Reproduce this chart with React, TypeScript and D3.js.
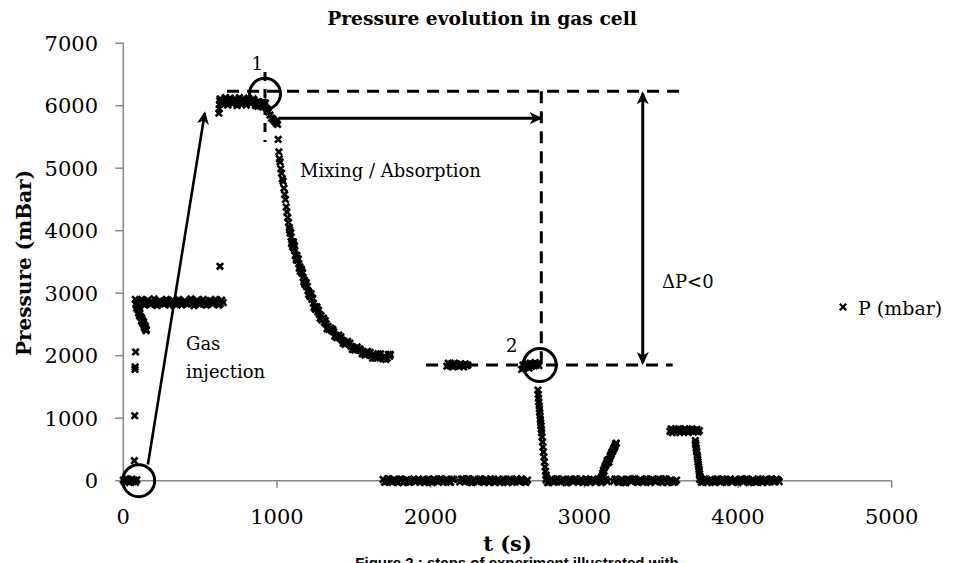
import React from 'react';
import * as d3 from 'd3';

// ---- axis ticks ----
const xTicks = [0, 1000, 2000, 3000, 4000, 5000];
const yTicks = [0, 1000, 2000, 3000, 4000, 5000, 6000, 7000];

// ---- data segments: t (s), P (mbar) ----
const startT = [0, 8, 16, 24, 32, 40, 48, 56, 64, 72, 80, 88];
const startP = [10, -20, 30, -10, 20, -30, 0, 25, -15, 10, -25, 15];

const injT = [72, 74, 76, 77, 80];
const injP = [320, 1040, 1780, 1820, 2060];

const slopeT = [78, 84, 90, 96, 102, 108, 114, 120, 126, 132, 138, 144, 150];
const slopeP = [2900, 2840, 2790, 2760, 2700, 2680, 2620, 2600, 2560, 2540, 2490, 2470, 2420];
const slopeBT = [82, 88, 94, 100, 106, 112, 118, 124, 130, 136, 142, 148];
const slopeBP = [2820, 2760, 2740, 2680, 2640, 2620, 2560, 2530, 2510, 2460, 2430, 2400];

const plateauT = [110, 130, 150, 170, 190, 210, 230, 250, 270, 290, 310, 330, 350, 370, 390, 410, 430, 450, 470, 490, 510, 530, 550, 570, 590, 610, 630, 650];
const plateauP = [2880, 2830, 2870, 2840, 2860, 2820, 2870, 2850, 2830, 2880, 2840, 2860, 2820, 2870, 2850, 2830, 2880, 2840, 2860, 2830, 2870, 2850, 2820, 2880, 2840, 2860, 2830, 2850];
const plateauBT = [120, 140, 160, 180, 200, 220, 240, 260, 280, 300, 320, 340, 360, 380, 400, 420, 440, 460, 480, 500, 520, 540, 560, 580, 600, 620, 640];
const plateauBP = [2900, 2810, 2890, 2820, 2910, 2800, 2880, 2830, 2900, 2810, 2890, 2820, 2900, 2810, 2880, 2830, 2910, 2800, 2890, 2820, 2900, 2810, 2880, 2830, 2900, 2810, 2890];

const outlierT = [629];
const outlierP = [3430];

const peakT = [622, 624, 626, 628, 630, 640, 655, 670, 685, 700, 715, 730, 745, 760, 775, 790, 805, 820, 835, 850, 865, 880, 895, 910, 925];
const peakP = [5880, 5950, 6020, 6080, 6110, 6080, 6050, 6090, 6060, 6100, 6070, 6050, 6080, 6060, 6100, 6070, 6050, 6080, 6060, 6090, 6040, 6070, 6050, 6060, 6040];
const peakBT = [650, 665, 680, 695, 710, 725, 740, 755, 770, 785, 800, 815, 830, 845, 860, 875, 890, 905];
const peakBP = [6020, 6130, 6010, 6120, 6030, 6110, 6000, 6130, 6020, 6100, 6010, 6120, 6030, 6110, 6040, 6060, 6020, 6040];

const peakEndT = [860, 875, 890, 905, 920, 935, 945, 955, 965, 975, 985, 995];
const peakEndP = [6000, 5990, 6010, 5980, 5990, 5950, 5900, 5850, 5800, 5780, 5750, 5720];

const decayT = [1000, 1004, 1008, 1012, 1016, 1020, 1025, 1030, 1035, 1040, 1045, 1050, 1055, 1060, 1065, 1070, 1075, 1080, 1086, 1092, 1098, 1104, 1110, 1116, 1122, 1128, 1135, 1142, 1149, 1156, 1163, 1170, 1178, 1186, 1194, 1202, 1210, 1219, 1228, 1237, 1246, 1256, 1266, 1276, 1287, 1298, 1309, 1320, 1332, 1344, 1356, 1369, 1382, 1395, 1409, 1423, 1437, 1452, 1467, 1482, 1498, 1514, 1530, 1546, 1563, 1580, 1597, 1614, 1631, 1648, 1665, 1682, 1699, 1716, 1733];
const decayP = [5760, 5700, 5460, 5260, 5150, 5100, 4990, 4920, 4830, 4790, 4680, 4580, 4500, 4380, 4300, 4210, 4130, 4050, 3960, 3900, 3820, 3790, 3720, 3680, 3610, 3560, 3530, 3470, 3420, 3360, 3320, 3250, 3210, 3150, 3100, 3040, 3010, 2950, 2900, 2840, 2790, 2760, 2700, 2660, 2640, 2580, 2530, 2510, 2470, 2430, 2400, 2380, 2330, 2310, 2280, 2250, 2230, 2200, 2190, 2150, 2130, 2120, 2090, 2080, 2060, 2030, 2040, 2000, 2010, 1990, 2000, 1970, 1990, 1960, 1990];

const decayBT = [1083, 1095, 1107, 1119, 1131, 1145, 1160, 1175, 1190, 1206, 1223, 1241, 1260, 1281, 1303, 1326, 1350, 1376, 1402, 1430, 1459, 1490, 1522, 1555, 1589, 1623, 1657, 1691, 1725];
const decayBP = [4010, 3790, 3820, 3600, 3600, 3400, 3380, 3180, 3170, 2980, 2990, 2770, 2780, 2600, 2600, 2430, 2440, 2310, 2330, 2200, 2230, 2100, 2140, 2030, 2070, 1960, 2030, 1950, 2020];

const decayCT = [1090, 1102, 1114, 1126, 1138, 1152, 1167, 1182, 1198, 1214, 1232, 1250, 1270, 1292, 1314, 1338, 1363, 1389, 1416, 1444, 1474, 1506, 1538, 1572, 1606, 1640, 1674, 1708, 1738];
const decayCP = [3970, 3740, 3760, 3530, 3550, 3350, 3330, 3140, 3110, 2950, 2920, 2740, 2730, 2570, 2560, 2420, 2420, 2290, 2300, 2180, 2200, 2090, 2110, 2010, 2050, 1960, 2030, 1940, 2020];

const zeroBT = [1690, 1700, 1710, 1720, 1730, 1740, 1750, 1760, 1770, 1780, 1790, 1800, 1810, 1820, 1830, 1840, 1850, 1860, 1870, 1880, 1890, 1900, 1910, 1920, 1930, 1940, 1950, 1960, 1970, 1980, 1990, 2000, 2010, 2020, 2030, 2040, 2050, 2060, 2070, 2080, 2090, 2100, 2110, 2120, 2130, 2140, 2150];
const zeroBP = [20, -25, -15, 30, 30, -10, -25, 20, 10, -20, -30, 25, 25, -30, -10, 15, 15, -25, -20, 10, 30, -20, -5, 25, -25, 10, 20, -30, -15, 20, 25, -15, -30, 30, 10, -10, -20, 25, 30, -25, -10, 20, 15, -15, -25, 25, 20];

const midAT = [2105, 2115, 2125, 2135, 2145, 2155, 2165, 2175, 2185, 2195, 2205, 2215, 2225, 2235, 2242];
const midAP = [1830, 1880, 1840, 1870, 1820, 1880, 1840, 1860, 1830, 1870, 1850, 1820, 1870, 1840, 1850];

const zeroCT = [2190, 2200, 2210, 2220, 2230, 2240, 2250, 2260, 2270, 2280, 2290, 2300, 2310, 2320, 2330, 2340, 2350, 2360, 2370, 2380, 2390, 2400, 2410, 2420, 2430, 2440, 2450, 2460, 2470, 2480, 2490, 2500, 2510, 2520, 2530, 2540, 2550, 2560, 2570, 2580, 2590, 2600, 2610, 2620, 2630];
const zeroCP = [-20, 25, 25, -20, -10, 30, 30, -25, -30, 20, 15, -15, -15, 30, 20, -20, -25, 20, 10, -30, 30, 15, -20, -25, 5, 25, -30, -10, 25, 20, -10, -30, 20, 25, -25, -15, 15, 30, -5, -20, 30, 10, -20, -25, 10];

const midBT = [2592, 2600, 2608, 2616, 2624, 2632, 2640, 2648, 2656, 2664, 2672, 2680, 2688, 2696, 2704];
const midBP = [1780, 1850, 1800, 1870, 1820, 1860, 1800, 1880, 1830, 1870, 1840, 1890, 1850, 1870, 1840];

const dropAT = [2698, 2700, 2702, 2704, 2706, 2708, 2710, 2712, 2714, 2716, 2718, 2720, 2722, 2725, 2728, 2731, 2734, 2737, 2740, 2744, 2748, 2752, 2756];
const dropAP = [1450, 1380, 1320, 1260, 1200, 1150, 1090, 1040, 980, 930, 880, 820, 770, 700, 620, 540, 460, 380, 300, 220, 150, 90, 40];

const zeroDT = [2750, 2760, 2770, 2780, 2790, 2800, 2810, 2820, 2830, 2840, 2850, 2860, 2870, 2880, 2890, 2900, 2910, 2920, 2930, 2940, 2950, 2960, 2970, 2980, 2990, 3000, 3010, 3020, 3030, 3040, 3050, 3060, 3070, 3080, 3090, 3100, 3110, 3120, 3130, 3140, 3150];
const zeroDP = [15, -30, -25, 20, 20, -25, -10, 30, 30, -15, -20, 25, 10, -30, -30, 20, 25, -10, -15, 30, 20, -25, -5, 25, -25, -20, 30, 15, -10, -30, 15, 20, -20, -10, 25, 30, -30, -15, 10, 20, -15];

const riseT = [3112, 3116, 3120, 3124, 3128, 3132, 3136, 3140, 3144, 3148, 3152, 3156, 3160, 3164, 3168, 3172, 3176, 3180, 3184, 3188, 3192, 3196, 3200, 3204, 3208];
const riseP = [60, 80, 120, 170, 150, 210, 240, 250, 280, 320, 330, 290, 300, 350, 390, 410, 430, 460, 470, 500, 520, 530, 560, 590, 600];

const zeroET = [3190, 3200, 3210, 3220, 3230, 3240, 3250, 3260, 3270, 3280, 3290, 3300, 3310, 3320, 3330, 3340, 3350, 3360, 3370, 3380, 3390, 3400, 3410, 3420, 3430, 3440, 3450, 3460, 3470, 3480, 3490, 3500, 3510, 3520, 3530, 3540, 3550, 3560, 3570, 3580, 3590, 3600];
const zeroEP = [-10, 25, 25, -25, -20, 20, 15, -30, -30, 25, 20, -5, -5, 30, 30, -20, -25, 15, 10, -25, -15, 30, 25, -10, -30, 20, 15, -15, -10, 30, 20, -20, -25, 25, 30, -30, -15, 10, 5, -25, -20, 10];

const highT = [3557, 3565, 3573, 3581, 3589, 3597, 3605, 3613, 3621, 3629, 3637, 3645, 3653, 3661, 3669, 3677, 3685, 3693, 3701, 3709, 3717, 3725, 3733, 3741, 3749];
const highP = [790, 830, 770, 810, 820, 780, 800, 830, 770, 820, 800, 780, 830, 790, 810, 770, 820, 800, 830, 780, 810, 790, 820, 780, 800];

const dropBT = [3722, 3724, 3726, 3728, 3730, 3732, 3734, 3736, 3738, 3740, 3742, 3744, 3746, 3748, 3750, 3753, 3756, 3759];
const dropBP = [640, 600, 570, 520, 480, 460, 410, 380, 340, 300, 260, 220, 180, 150, 110, 70, 40, 20];

const zeroFT = [3750, 3760, 3770, 3780, 3790, 3800, 3810, 3820, 3830, 3840, 3850, 3860, 3870, 3880, 3890, 3900, 3910, 3920, 3930, 3940, 3950, 3960, 3970, 3980, 3990, 4000, 4010, 4020, 4030, 4040, 4050, 4060, 4070, 4080, 4090, 4100, 4110, 4120, 4130, 4140, 4150, 4160, 4170, 4180, 4190, 4200, 4210, 4220, 4230, 4240, 4250, 4260, 4268];
const zeroFP = [20, -25, -20, 25, 30, -30, -10, 20, 10, -15, -30, 25, 25, -20, -15, 30, 15, -25, -25, 10, 30, -15, -5, 20, -20, -30, 20, 25, -15, -10, 25, 30, -30, -20, 10, 15, -20, -25, 30, 20, -10, -30, 15, 25, -25, -15, 20, 30, -10, -20, 25, 10, -15];

const zip = (t: number[], p: number[]) => t.map((v, i) => [v, p[i]] as [number, number]);

const FONT = '"DejaVu Serif", "Liberation Serif", serif';

export default function App() {
  const W = 961;
  const H = 563;
  const x = d3.scaleLinear().domain([0, 5000]).range([123.3, 891.7]);
  const y = d3.scaleLinear().domain([0, 7000]).range([480.7, 43.2]);

  const points: [number, number][] = [
    ...zip(startT, startP),
    ...zip(injT, injP),
    ...zip(slopeT, slopeP),
    ...zip(slopeBT, slopeBP),
    ...zip(plateauT, plateauP),
    ...zip(plateauBT, plateauBP),
    ...zip(outlierT, outlierP),
    ...zip(peakT, peakP),
    ...zip(peakBT, peakBP),
    ...zip(peakEndT, peakEndP),
    ...zip(decayT, decayP),
    ...zip(decayBT, decayBP),
    ...zip(decayCT, decayCP),
    ...zip(zeroBT, zeroBP),
    ...zip(midAT, midAP),
    ...zip(zeroCT, zeroCP),
    ...zip(midBT, midBP),
    ...zip(dropAT, dropAP),
    ...zip(zeroDT, zeroDP),
    ...zip(riseT, riseP),
    ...zip(zeroET, zeroEP),
    ...zip(highT, highP),
    ...zip(dropBT, dropBP),
    ...zip(zeroFT, zeroFP),
  ];

  const s = 3.2;
  const cross = `M${-s},${-s}L${s},${s}M${-s},${s}L${s},${-s}`;
  const axisColor = '#868686';
  const x0 = x(0);
  const y0 = y(0);

  const dash = '12 8';
  const topP = 6230;
  const botP = 1850;

  return (
    <svg width={W} height={H} style={{ position: 'absolute', left: 0, top: 0, background: '#fff' }} fontFamily={FONT}>
      <defs>
        <marker id="ah" markerUnits="userSpaceOnUse" markerWidth={16} markerHeight={14} refX={11} refY={6} orient="auto-start-reverse" viewBox="0 0 16 14">
          <path d="M0,0 L13,6 L0,12 L3.5,6 Z" fill="#000" />
        </marker>
      </defs>
      <rect width={W} height={H} fill="#fff" />

      {/* title */}
      <text x={482} y={25} textAnchor="middle" fontWeight="bold" fontSize={18.7}>Pressure evolution in gas cell</text>

      {/* axes */}
      <line x1={x0} x2={x(5000)} y1={y0} y2={y0} stroke={axisColor} strokeWidth={1.5} />
      <line x1={x0} x2={x0} y1={y0} y2={y(7000)} stroke={axisColor} strokeWidth={1.5} />
      {yTicks.map(v => (
        <g key={'y' + v}>
          <line x1={x0 - 8} x2={x0} y1={y(v)} y2={y(v)} stroke={axisColor} strokeWidth={1.5} />
          <text x={98} y={y(v)} dy="0.36em" textAnchor="end" fontSize={21}>{v}</text>
        </g>
      ))}
      {xTicks.map(v => (
        <g key={'x' + v}>
          <line x1={x(v)} x2={x(v)} y1={y0} y2={y0 + 7} stroke={axisColor} strokeWidth={1.5} />
          <text x={x(v)} y={524} textAnchor="middle" fontSize={21}>{v}</text>
        </g>
      ))}

      {/* axis titles */}
      <text transform={`translate(31,${(y(0) + y(7000)) / 2 + 1}) rotate(-90)`} textAnchor="middle" fontWeight="bold" fontSize={20}>Pressure (mBar)</text>
      <text x={(x(0) + x(5000)) / 2} y={551} textAnchor="middle" fontWeight="bold" fontSize={21}>t (s)</text>

      {/* data */}
      <g stroke="#000" strokeWidth={2.6} fill="none">
        {points.map((p, i) => (
          <path key={i} d={cross} transform={`translate(${x(p[0])},${y(p[1])})`} />
        ))}
      </g>

      {/* annotations */}
      <g stroke="#000" strokeWidth={3} fill="none">
        <line x1={x(675)} x2={x(3640)} y1={y(topP)} y2={y(topP)} strokeDasharray={dash} />
        <line x1={x(1970)} x2={x(3575)} y1={y(botP)} y2={y(botP)} strokeDasharray={dash} />
        <line x1={x(922)} x2={x(922)} y1={y(6540)} y2={y(5420)} strokeDasharray="9 8" />
        <line x1={x(2720)} x2={x(2720)} y1={y(topP)} y2={y(botP)} strokeDasharray={dash} />
        <circle cx={x(100)} cy={y(0)} r={16} />
        <circle cx={x(922)} cy={y(6190)} r={15.5} />
        <circle cx={x(2710)} cy={y(botP)} r={16.5} />
        <line x1={x(160)} y1={y(260)} x2={x(530)} y2={y(5880)} strokeWidth={2.6} markerEnd="url(#ah)" />
        <line x1={x(1017)} y1={y(5800)} x2={x(2716)} y2={y(5800)} markerEnd="url(#ah)" />
        <line x1={x(3380)} y1={y(topP) + 2} x2={x(3380)} y2={y(botP) - 2} markerStart="url(#ah)" markerEnd="url(#ah)" />
      </g>

      {/* annotation texts */}
      <g fontSize={18} fill="#000">
        <text x={x(835)} y={70}>1</text>
        <text x={x(2490)} y={y(botP) - 13}>2</text>
        <text x={300} y={177}>Mixing / Absorption</text>
        <text x={186} y={350}>Gas</text>
        <text x={186} y={378}>injection</text>
        <text x={662} y={288}>ΔP&lt;0</text>
      </g>

      {/* legend */}
      <path d={cross} transform="translate(843,307)" stroke="#000" strokeWidth={2.2} />
      <text x={858} y={315} fontSize={19}>P (mbar)</text>

      {/* caption (cut off by the frame, as in the source) */}
      <text x={517} y={568} textAnchor="middle" fontWeight="bold" fontSize={15} fontFamily='"Liberation Sans", Arial, sans-serif'>Figure 2 : steps of experiment illustrated with</text>
    </svg>
  );
}
